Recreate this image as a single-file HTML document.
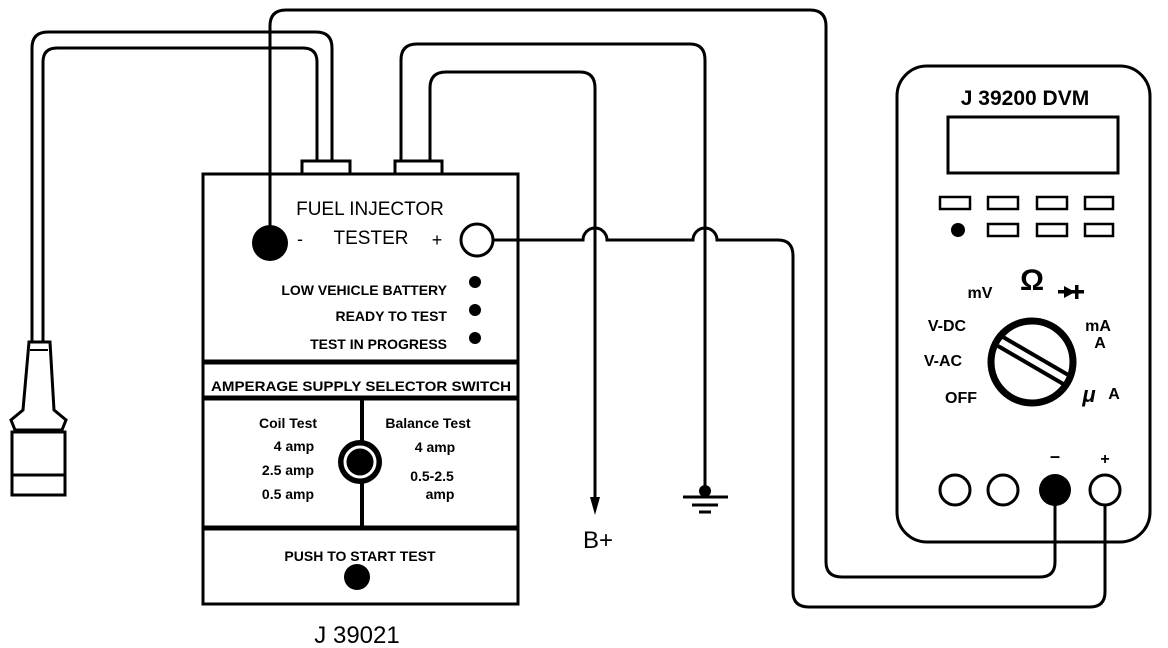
<!DOCTYPE html>
<html><head><meta charset="utf-8"><style>
html,body{margin:0;padding:0;background:#fff}
svg{display:block}
text{font-family:"Liberation Sans",sans-serif;fill:#000}
.b{font-weight:bold}
</style></head><body>
<svg width="1168" height="648" viewBox="0 0 1168 648" xmlns="http://www.w3.org/2000/svg">
<g fill="none" stroke="#000" stroke-width="3">
<path d="M332 162 V48 Q332 32 316 32 H48 Q32 32 32 48 V342"/>
<path d="M317 162 V62 Q317 48 303 48 H57 Q43 48 43 62 V342"/>
<path d="M401 162 V60 Q401 44 417 44 H690 Q705 44 705 60 V488"/>
<path d="M430 162 V88 Q430 72 446 72 H580 Q595 72 595 88 V498"/>
<path d="M270 243 V26 Q270 10 286 10 H810 Q826 10 826 26 V562 Q826 577 842 577 H1040 Q1055 577 1055 562 V490"/>
<path d="M493 240 H583 A12 12 0 0 1 607 240 H693 A12 12 0 0 1 717 240 H778 Q793 240 793 256 V592 Q793 607 809 607 H1090 Q1105 607 1105 592 V506"/>
<rect x="203" y="174" width="315" height="430"/>
<rect x="302" y="161" width="48" height="13"/>
<rect x="395" y="161" width="47" height="13"/>
<line x1="203" y1="362" x2="518" y2="362" stroke-width="5"/>
<line x1="203" y1="398" x2="518" y2="398" stroke-width="5"/>
<line x1="203" y1="528" x2="518" y2="528" stroke-width="5"/>
<line x1="362" y1="400" x2="362" y2="528" stroke-width="4"/>
<circle cx="477" cy="240" r="16"/>
<path d="M29 342 H50 L54 410 L66 420 L62 430 H15 L11 420 L23 410 Z"/>
<rect x="12" y="432" width="53" height="63"/>
<line x1="12" y1="475" x2="65" y2="475"/>
<line x1="30" y1="350" x2="48" y2="350" stroke-width="2"/>
<rect x="897" y="66" width="253" height="476" rx="30"/>
<rect x="948" y="117" width="170" height="56"/>
<g stroke-width="2.5">
<rect x="940" y="197" width="30" height="12"/><rect x="988" y="197" width="30" height="12"/><rect x="1037" y="197" width="30" height="12"/><rect x="1085" y="197" width="28" height="12"/>
<rect x="988" y="224" width="30" height="12"/><rect x="1037" y="224" width="30" height="12"/><rect x="1085" y="224" width="28" height="12"/>
</g>
<circle cx="1032" cy="362" r="41" stroke-width="7"/>
<line x1="1003" y1="337" x2="1070" y2="376" stroke-width="4"/>
<line x1="998" y1="346" x2="1065" y2="385" stroke-width="4"/>
<circle cx="955" cy="490" r="15"/><circle cx="1003" cy="490" r="15"/><circle cx="1105" cy="490" r="15"/>
<line x1="683" y1="497" x2="728" y2="497"/>
<line x1="692" y1="505" x2="718" y2="505"/>
<line x1="699" y1="512" x2="711" y2="512"/>
</g>
<g fill="#000">
<circle cx="270" cy="243" r="18"/>
<circle cx="475" cy="282" r="6"/><circle cx="475" cy="310" r="6"/><circle cx="475" cy="338" r="6"/>
<circle cx="360" cy="462" r="22"/>
<circle cx="360" cy="462" r="15" fill="none" stroke="#fff" stroke-width="3"/>
<circle cx="357" cy="577" r="13"/>
<circle cx="958" cy="230" r="7"/>
<circle cx="1055" cy="490" r="16"/>
<circle cx="705" cy="491" r="6"/>
<path d="M590 497 L600 497 L595 515 Z"/>
<path d="M1064 286 L1075 292 L1064 298 Z"/>
<rect x="1058" y="290" width="26" height="3.5"/>
<rect x="1075" y="285" width="3.5" height="14"/>
</g>
<text x="370" y="215" font-size="19" text-anchor="middle" style="font-weight:normal">FUEL INJECTOR</text>
<text x="371" y="244" font-size="19" text-anchor="middle" style="font-weight:normal">TESTER</text>
<text x="300" y="245" font-size="18" text-anchor="middle" style="font-weight:normal">-</text>
<text x="437" y="246" font-size="18" text-anchor="middle" style="font-weight:normal">+</text>
<text class="b" x="447" y="295" font-size="14" text-anchor="end">LOW VEHICLE BATTERY</text>
<text class="b" x="447" y="321" font-size="14" text-anchor="end">READY TO TEST</text>
<text class="b" x="447" y="349" font-size="14" text-anchor="end">TEST IN PROGRESS</text>
<text class="b" x="361" y="391" font-size="14" text-anchor="middle" textLength="300" lengthAdjust="spacingAndGlyphs">AMPERAGE SUPPLY SELECTOR SWITCH</text>
<text class="b" x="288" y="428" font-size="14" text-anchor="middle">Coil Test</text>
<text class="b" x="294" y="451" font-size="14" text-anchor="middle">4 amp</text>
<text class="b" x="288" y="475" font-size="14" text-anchor="middle">2.5 amp</text>
<text class="b" x="288" y="499" font-size="14" text-anchor="middle">0.5 amp</text>
<text class="b" x="428" y="428" font-size="14" text-anchor="middle">Balance Test</text>
<text class="b" x="435" y="452" font-size="14" text-anchor="middle">4 amp</text>
<text class="b" x="432" y="481" font-size="14" text-anchor="middle">0.5-2.5</text>
<text class="b" x="440" y="499" font-size="14" text-anchor="middle">amp</text>
<text class="b" x="360" y="561" font-size="14" text-anchor="middle">PUSH TO START TEST</text>
<text x="357" y="643" font-size="24" text-anchor="middle" style="font-weight:normal">J 39021</text>
<text x="598" y="548" font-size="24" text-anchor="middle" style="font-weight:normal">B+</text>
<text class="b" x="1025" y="105" font-size="21" text-anchor="middle">J 39200 DVM</text>
<text class="b" x="980" y="298" font-size="16" text-anchor="middle">mV</text>
<text class="b" x="1032" y="290" font-size="30" text-anchor="middle">Ω</text>
<text class="b" x="947" y="331" font-size="16" text-anchor="middle">V-DC</text>
<text class="b" x="943" y="366" font-size="16" text-anchor="middle">V-AC</text>
<text class="b" x="961" y="403" font-size="16" text-anchor="middle">OFF</text>
<text class="b" x="1098" y="331" font-size="16" text-anchor="middle">mA</text>
<text class="b" x="1100" y="348" font-size="16" text-anchor="middle">A</text>
<text class="b" x="1089" y="402" font-size="22" text-anchor="middle" font-style="italic">μ</text>
<text class="b" x="1114" y="399" font-size="16" text-anchor="middle">A</text>
<text class="b" x="1055" y="462" font-size="18" text-anchor="middle">–</text>
<text class="b" x="1105" y="464" font-size="16" text-anchor="middle">+</text>
</svg>
</body></html>
